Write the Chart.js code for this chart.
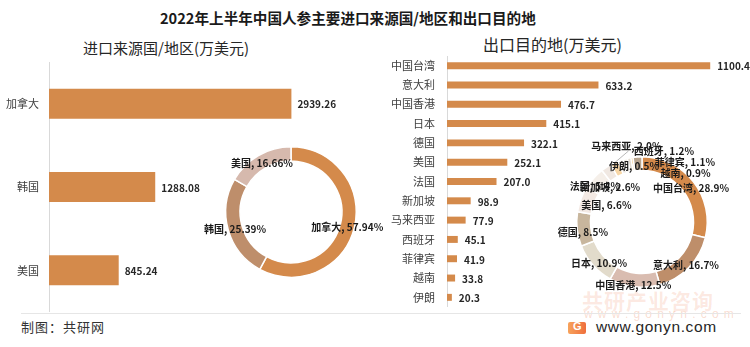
<!DOCTYPE html>
<html>
<head>
<meta charset="utf-8">
<script src="https://cdn.jsdelivr.net/npm/chart.js@4.4.1/dist/chart.umd.min.js"></script>
<style>
  body { margin: 0; background: #fff; }
  #wrap { position: relative; width: 750px; height: 347px; overflow: hidden; background: #fff;
          font-family: "Noto Sans CJK SC", "Noto Sans", sans-serif; color: #262626; }
  .txt { position: absolute; white-space: nowrap; }
  canvas { position: absolute; }
  #title { left: 160px; top: 8px; font-size: 14.6px; font-weight: bold; line-height: 20px; color: #1a1a1a; }
  #subLeft { left: 83px; top: 37px; font-size: 15px; line-height: 22px; color: #262626; }
  #subRight { left: 483px; top: 33px; font-size: 16px; line-height: 22px; color: #262626; }
  #sep { position: absolute; left: 21px; top: 313px; width: 720px; height: 1px; background: #e6e6e6; }
  #footer { left: 21px; top: 318px; font-size: 13px; line-height: 18px; letter-spacing: 1px; color: #333; }
  #wm1 { left: 582px; top: 287px; font-size: 21px; font-weight: bold; line-height: 26px; color: rgba(238,120,70,0.16); letter-spacing: 1px; }
  #wm2 { left: 584px; top: 306px; font-size: 12px; line-height: 16px; color: rgba(238,140,100,0.3); letter-spacing: 5.2px; font-family: "Liberation Sans", sans-serif; }
  #logo { position: absolute; left: 568px; top: 322px; width: 18px; height: 12px; border-radius: 2px;
          background: linear-gradient(90deg, #f7a35c, #ef6f3c); }
  #logo span { position: absolute; left: 5px; top: -2px; font: bold 11px "Liberation Sans", sans-serif; color: #fff; }
  #site { left: 596px; top: 317px; font-size: 15.5px; line-height: 20px; color: #262626; font-family: "Liberation Sans", sans-serif; letter-spacing: 0.6px; }
</style>
</head>
<body>
<div id="wrap">
  <div class="txt" id="title">2022年上半年中国人参主要进口来源国/地区和出口目的地</div>
  <div class="txt" id="subLeft">进口来源国/地区(万美元)</div>
  <div class="txt" id="subRight">出口目的地(万美元)</div>
  <div class="txt" id="wm1">共研产业咨询</div>
  <div class="txt" id="wm2">www.gonyn.com</div>
  <div id="sep"></div>
  <div class="txt" id="footer">制图：共研网</div>
  <div id="logo"><span>G</span></div>
  <div class="txt" id="site">www.gonyn.com</div>

  <canvas id="importBar" width="340" height="250" style="left:0;top:62px"></canvas>
  <canvas id="exportBar" width="380" height="251" style="left:370px;top:56px"></canvas>
  <canvas id="importPie" width="200" height="200" style="left:191px;top:112px"></canvas>
  <canvas id="exportPie" width="200" height="200" style="left:542px;top:122px"></canvas>
</div>

<script>
// 进口来源国/地区 (万美元)
const importNames = ['加拿大', '韩国', '美国'];
const importValues = [2939.26, 1288.08, 845.24];

// 出口目的地 (万美元)
const exportNames = ['中国台湾', '意大利', '中国香港', '日本', '德国', '美国', '法国',
                     '新加坡', '马来西亚', '西班牙', '菲律宾', '越南', '伊朗'];
const exportValues = [1100.4, 633.2, 476.7, 415.1, 322.1, 252.1, 207.0,
                      98.9, 77.9, 45.1, 41.9, 33.8, 20.3];

// 出口占比 (%) as printed on the ring, last slice is the unlabeled rest
const exportShareNames = exportNames.concat(['其他']);
const exportShares = [28.9, 16.7, 12.5, 10.9, 8.5, 6.6, 5.4, 2.6, 2.0, 1.2, 1.1, 0.9, 0.5, 2.2];

const FONT = '"Noto Sans CJK SC", "Noto Sans", sans-serif';
const BAR = '#d48a4b';
Chart.defaults.font.family = FONT;
Chart.defaults.animation = false;

const importColors = ['#d48a4b', '#be8e6b', '#d6b9ad'];
const exportColors = ['#d48a4b', '#be8e6a', '#d9bcb0', '#e2dbcb', '#c8b69d', '#f3e9e3', '#f5efe9',
                      '#f0e8e2', '#f7d6a6', '#e9e5df', '#f1ede6', '#e4ddd2', '#f0b346', '#b6a38d'];

// label shifts (px) for the export ring where the labels were moved apart
const exportLabelShift = {
  '中国台湾': [3, 1], '意大利': [2, 2], '中国香港': [-2, 4], '日本': [1, 2], '德国': [-1, 3],
  '美国': [19, 3], '法国': [-4, 3], '新加坡': [0, 13], '马来西亚': [9, -24],
  '西班牙': [41, -17], '菲律宾': [58, -4], '越南': [55, 7], '伊朗': [1, 1]
};

const barValueLabels = {
  id: 'barValueLabels',
  afterDatasetsDraw(chart, args, opts) {
    const ctx = chart.ctx;
    const data = chart.data.datasets[0].data;
    ctx.save();
    ctx.font = 'bold 10px ' + FONT;
    ctx.fillStyle = '#262626';
    ctx.textBaseline = 'middle';
    chart.getDatasetMeta(0).data.forEach((bar, i) => {
      ctx.fillText(data[i].toFixed(opts.decimals), bar.x + opts.offset, bar.y + 1);
    });
    ctx.restore();
  }
};

const ringLabels = {
  id: 'ringLabels',
  afterDatasetsDraw(chart, args, opts) {
    const ctx = chart.ctx;
    ctx.save();
    ctx.font = 'bold 10px ' + FONT;
    ctx.fillStyle = '#1a1a1a';
    ctx.textAlign = 'center';
    ctx.textBaseline = 'middle';
    chart.getDatasetMeta(0).data.forEach((arc, i) => {
      const text = opts.text(i);
      if (!text) return;
      const mid = (arc.startAngle + arc.endAngle) / 2;
      const r = (arc.innerRadius + arc.outerRadius) / 2;
      const shift = (opts.shift && opts.shift[chart.data.labels[i]]) || [0, 0];
      const x = arc.x + Math.cos(mid) * r + shift[0];
      const y = arc.y + Math.sin(mid) * r + shift[1];
      if (opts.leader && opts.leader === chart.data.labels[i]) {
        ctx.strokeStyle = '#a6a6a6';
        ctx.lineWidth = 0.8;
        ctx.beginPath();
        ctx.moveTo(x + 2, y + 6);
        ctx.lineTo(arc.x + Math.cos(mid) * arc.outerRadius, arc.y + Math.sin(mid) * arc.outerRadius);
        ctx.stroke();
      }
      ctx.fillText(text, x, y + 1);
    });
    ctx.restore();
  }
};

function barChart(id, names, values, max, axisWidth, pad, decimals, offset) {
  return new Chart(document.getElementById(id), {
    type: 'bar',
    data: {
      labels: names,
      datasets: [{ data: values, backgroundColor: BAR, barPercentage: 0.36, categoryPercentage: 1 }]
    },
    options: {
      indexAxis: 'y',
      responsive: false,
      layout: { padding: { top: 0, bottom: 0, left: 0, right: 4 } },
      plugins: {
        legend: { display: false },
        tooltip: { enabled: false },
        barValueLabels: { decimals: decimals, offset: offset }
      },
      scales: {
        x: { display: false, min: 0, max: max },
        y: {
          grid: { display: false, drawTicks: false },
          border: { display: true, color: '#d9d9d9', width: 1 },
          ticks: { color: '#404040', font: { size: 11 }, padding: pad },
          afterFit(axis) {
            axis.width = axisWidth;
            // keep the category bands on the full canvas height
            axis.paddingTop = 0;
            axis.paddingBottom = 0;
          }
        }
      }
    },
    plugins: [barValueLabels]
  });
}

barChart('importBar', importNames, importValues, 3480, 49, 10, 2, 6);
barChart('exportBar', exportNames, exportValues, 1250, 77, 12, 1, 7);

const importTotal = importValues.reduce((s, v) => s + v, 0);

new Chart(document.getElementById('importPie'), {
  type: 'doughnut',
  data: {
    labels: importNames,
    datasets: [{ data: importValues, backgroundColor: importColors, borderColor: '#fff', borderWidth: 1.5 }]
  },
  options: {
    responsive: false,
    cutout: '78%',
    layout: { padding: 34 },
    plugins: {
      legend: { display: false },
      tooltip: { enabled: false },
      ringLabels: { text: i => importNames[i] + ', ' + (importValues[i] / importTotal * 100).toFixed(2) + '%' }
    }
  },
  plugins: [ringLabels]
});

new Chart(document.getElementById('exportPie'), {
  type: 'doughnut',
  data: {
    labels: exportShareNames,
    datasets: [{ data: exportShares, backgroundColor: exportColors, borderColor: '#fff', borderWidth: 1.5 }]
  },
  options: {
    responsive: false,
    cutout: '79%',
    layout: { padding: 34 },
    plugins: {
      legend: { display: false },
      tooltip: { enabled: false },
      ringLabels: {
        text: i => i < exportNames.length ? exportNames[i] + ', ' + exportShares[i].toFixed(1) + '%' : '',
        shift: exportLabelShift,
        leader: '马来西亚'
      }
    }
  },
  plugins: [ringLabels]
});
</script>
</body>
</html>
